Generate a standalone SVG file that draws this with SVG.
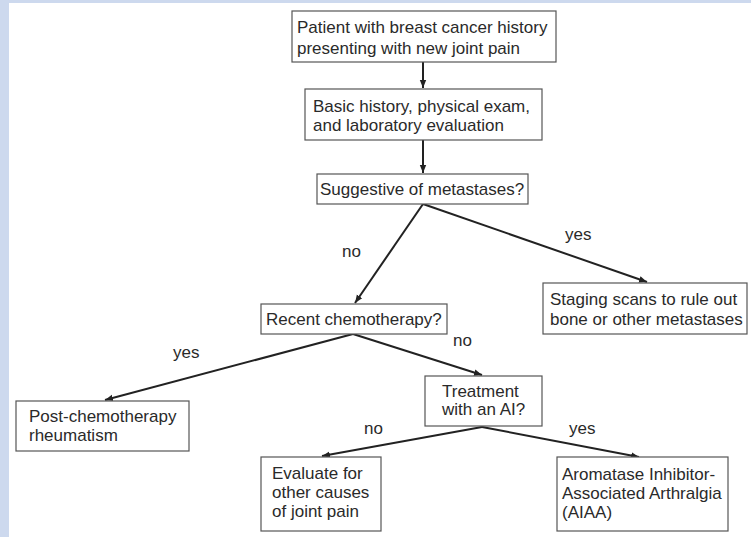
<svg xmlns="http://www.w3.org/2000/svg" width="751" height="537" viewBox="0 0 751 537">
  <defs>
    <marker id="arrow" viewBox="0 0 10 10" refX="10" refY="5" markerWidth="4" markerHeight="4" markerUnits="strokeWidth" orient="auto">
      <path d="M0,1 L10,5 L0,9 z" fill="#222"/>
    </marker>
  </defs>
  <style>
    .box { fill: #fff; stroke: #555; stroke-width: 1.2; }
    .lbl { font-family: "Liberation Sans", Arial, sans-serif; font-size: 17px; fill: #2a2a2a; }
    .edge { fill: none; stroke: #222; stroke-width: 2; }
    .arr { marker-end: url(#arrow); }
  </style>

  <!-- page background with tinted frame -->
  <rect x="0" y="0" width="751" height="537" fill="#cdd9ee"/>
  <rect x="9" y="3" width="742" height="534" fill="#fff"/>

  <g id="connectors">
    <line class="edge arr" x1="423" y1="62" x2="423" y2="88"/>
    <line class="edge arr" x1="423" y1="140" x2="423" y2="173"/>
    <line class="edge arr" x1="423" y1="204" x2="355" y2="303"/>
    <line class="edge arr" x1="423" y1="204" x2="647" y2="282"/>
    <line class="edge arr" x1="353" y1="334" x2="105" y2="400"/>
    <line class="edge arr" x1="353" y1="334" x2="482" y2="375"/>
    <line class="edge arr" x1="482" y1="427" x2="322" y2="456"/>
    <line class="edge arr" x1="482" y1="427" x2="639" y2="457"/>
    <text class="lbl" x="342" y="257">no</text>
    <text class="lbl" x="565" y="240">yes</text>
    <text class="lbl" x="173" y="358">yes</text>
    <text class="lbl" x="453" y="346">no</text>
    <text class="lbl" x="364" y="434">no</text>
    <text class="lbl" x="569" y="434">yes</text>
  </g>

  <g id="patient">
    <rect class="box" x="292" y="11" width="264" height="51"/>
    <text class="lbl" x="297" y="33">Patient with breast cancer history</text>
    <text class="lbl" x="297" y="54">presenting with new joint pain</text>
  </g>

  <g id="basic-eval">
    <rect class="box" x="305" y="89" width="237" height="51"/>
    <text class="lbl" x="313" y="112">Basic history, physical exam,</text>
    <text class="lbl" x="313" y="131">and laboratory evaluation</text>
  </g>

  <g id="metastases-q">
    <rect class="box" x="317" y="174" width="211" height="30"/>
    <text class="lbl" x="320" y="195">Suggestive of metastases?</text>
  </g>

  <g id="staging">
    <rect class="box" x="543" y="283" width="204" height="51"/>
    <text class="lbl" x="550" y="305">Staging scans to rule out</text>
    <text class="lbl" x="550" y="325">bone or other metastases</text>
  </g>

  <g id="chemo-q">
    <rect class="box" x="261" y="304" width="186" height="30"/>
    <text class="lbl" x="266" y="325">Recent chemotherapy?</text>
  </g>

  <g id="post-chemo">
    <rect class="box" x="16" y="401" width="173" height="50"/>
    <text class="lbl" x="29" y="422">Post-chemotherapy</text>
    <text class="lbl" x="29" y="441">rheumatism</text>
  </g>

  <g id="ai-q">
    <rect class="box" x="425" y="376" width="117" height="50"/>
    <text class="lbl" x="442" y="397">Treatment</text>
    <text class="lbl" x="442" y="415">with an AI?</text>
  </g>

  <g id="other-causes">
    <rect class="box" x="261" y="457" width="120" height="74"/>
    <text class="lbl" x="272" y="479">Evaluate for</text>
    <text class="lbl" x="272" y="498">other causes</text>
    <text class="lbl" x="272" y="517">of joint pain</text>
  </g>

  <g id="aiaa">
    <rect class="box" x="557" y="457" width="171" height="74"/>
    <text class="lbl" x="562" y="480">Aromatase Inhibitor-</text>
    <text class="lbl" x="562" y="499">Associated Arthralgia</text>
    <text class="lbl" x="562" y="518">(AIAA)</text>
  </g>
</svg>
